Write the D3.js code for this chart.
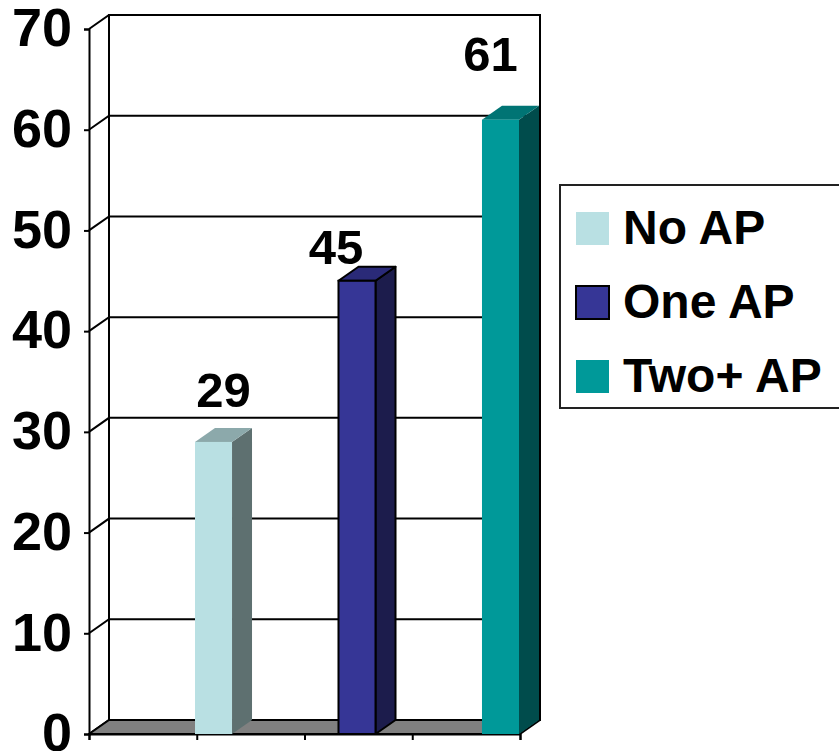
<!DOCTYPE html>
<html>
<head>
<meta charset="utf-8">
<script src="https://cdn.jsdelivr.net/npm/d3@7"></script>
<style>
  body { margin: 0; background: #fff; }
  svg text { font-family: "Liberation Sans", Arial, sans-serif; font-weight: bold; fill: #000; }
</style>
</head>
<body>
<div id="chart"></div>
<script>

// data
const series = ["No AP", "One AP", "Two+ AP"];
const values = [29, 45, 61];
const yTicks = [0, 10, 20, 30, 40, 50, 60, 70];

// colours: front, side, top, outline
const fronts = ["#b9e0e3", "#363696", "#009999"];
const sides = ["#5e7070", "#1c1c4c", "#004c4c"];
const tops = ["#8ca9ab", "#2a2a78", "#007474"];
const strokes = ["none", "#000", "none"];

// label nudges (Excel put them a bit oddly)
const labelDx = [0, -31, -20];
const labelDy = [-21, -3, -35];

const width = 839, height = 751;
const dx = 20, dy = 14;  // depth of the 3d box

const svg = d3.select("#chart")
  .append("svg")
  .attr("width", width)
  .attr("height", height);

const yScale = d3.scaleLinear()
  .domain([0, 70])
  .range([734, 29]);

const xLeft = 89, xRight = 520;

const xTick = d3.scaleLinear()
  .domain([0, 4])
  .range([xLeft, xRight]);

const xBand = d3.scaleBand()
  .domain(series)
  .range([195, 519])
  .paddingInner(0.742)
  .paddingOuter(0);

const y0 = yScale(0), yTop = yScale(70);

// left wall
svg.append("polygon")
  .attr("points", [[xLeft, y0], [xLeft, yTop], [xLeft + dx, yTop - dy], [xLeft + dx, y0 - dy]].join(" "))
  .attr("fill", "#fff");

// back wall
svg.append("rect")
  .attr("x", xLeft + dx)
  .attr("y", yTop - dy)
  .attr("width", xRight - xLeft)
  .attr("height", y0 - yTop)
  .attr("fill", "#fff")
  .attr("stroke", "#000")
  .attr("stroke-width", 2);

// gridlines on back + left wall
const grid = svg.append("g");
yTicks.forEach(function (t) {
  grid.append("polyline")
    .attr("points", [[xLeft, yScale(t)], [xLeft + dx, yScale(t) - dy], [xRight + dx, yScale(t) - dy]].join(" "))
    .attr("fill", "none")
    .attr("stroke", "#000")
    .attr("stroke-width", 2);
});

// floor
svg.append("polygon")
  .attr("points", [[xLeft, y0], [xRight, y0], [xRight + dx, y0 - dy], [xLeft + dx, y0 - dy]].join(" "))
  .attr("fill", "#808080")
  .attr("stroke", "#000")
  .attr("stroke-width", 2)
  .attr("stroke-linejoin", "round");

// y axis
const yAxis = d3.axisLeft(yScale)
  .tickValues(yTicks)
  .tickSize(5)
  .tickPadding(12);

const gy = svg.append("g")
  .attr("transform", "translate(" + xLeft + ",0)")
  .call(yAxis);
gy.select(".domain").attr("stroke-width", 2);
gy.selectAll(".tick line").attr("stroke-width", 2);
gy.selectAll(".tick text")
  .attr("font-size", 54)
  .attr("dy", "0.31em");

// x axis (category ticks only)
const xAxis = d3.axisBottom(xTick)
  .ticks(4)
  .tickSize(6)
  .tickFormat("");

const gx = svg.append("g")
  .attr("transform", "translate(0," + y0 + ")")
  .call(xAxis);
gx.select(".domain").attr("stroke-width", 2);
gx.selectAll(".tick line").attr("stroke-width", 2);

// bars
const bars = svg.selectAll(".bar")
  .data(values)
  .enter()
  .append("g")
  .attr("class", "bar");

bars.append("polygon")
  .attr("points", function (d, i) {
    const x1 = xBand(series[i]) + xBand.bandwidth();
    return [[x1, yScale(d)], [x1 + dx, yScale(d) - dy], [x1 + dx, y0 - dy], [x1, y0]].join(" ");
  })
  .attr("fill", function (d, i) { return sides[i]; })
  .attr("stroke", function (d, i) { return strokes[i]; })
  .attr("stroke-width", 2)
  .attr("stroke-linejoin", "round");

bars.append("polygon")
  .attr("points", function (d, i) {
    const x0 = xBand(series[i]), x1 = x0 + xBand.bandwidth();
    return [[x0, yScale(d)], [x0 + dx, yScale(d) - dy], [x1 + dx, yScale(d) - dy], [x1, yScale(d)]].join(" ");
  })
  .attr("fill", function (d, i) { return tops[i]; })
  .attr("stroke", function (d, i) { return strokes[i]; })
  .attr("stroke-width", 2)
  .attr("stroke-linejoin", "round");

bars.append("rect")
  .attr("x", function (d, i) { return xBand(series[i]); })
  .attr("y", function (d) { return yScale(d); })
  .attr("width", xBand.bandwidth())
  .attr("height", function (d) { return y0 - yScale(d); })
  .attr("fill", function (d, i) { return fronts[i]; })
  .attr("stroke", function (d, i) { return strokes[i]; })
  .attr("stroke-width", 2);

// value labels
bars.append("text")
  .attr("x", function (d, i) { return xBand(series[i]) + (xBand.bandwidth() + dx) / 2 + labelDx[i]; })
  .attr("y", function (d, i) { return yScale(d) - dy + labelDy[i]; })
  .attr("text-anchor", "middle")
  .attr("font-size", 49)
  .text(function (d) { return d; });

// legend
const legend = svg.append("g")
  .attr("transform", "translate(560,185)");

legend.append("rect")
  .attr("x", 0)
  .attr("y", 0)
  .attr("width", 300)
  .attr("height", 223)
  .attr("fill", "#fff")
  .attr("stroke", "#222")
  .attr("stroke-width", 2);

const item = legend.selectAll(".item")
  .data(series)
  .enter()
  .append("g")
  .attr("class", "item")
  .attr("transform", function (d, i) { return "translate(0," + (27 + i * 74) + ")"; });

item.append("rect")
  .attr("x", 16)
  .attr("y", 0)
  .attr("width", 33)
  .attr("height", 33)
  .attr("fill", function (d, i) { return fronts[i]; })
  .attr("stroke", function (d, i) { return strokes[i]; })
  .attr("stroke-width", 2);

item.append("text")
  .attr("x", 63)
  .attr("y", 32)
  .attr("font-size", 48)
  .text(function (d) { return d; });

</script>
</body>
</html>
